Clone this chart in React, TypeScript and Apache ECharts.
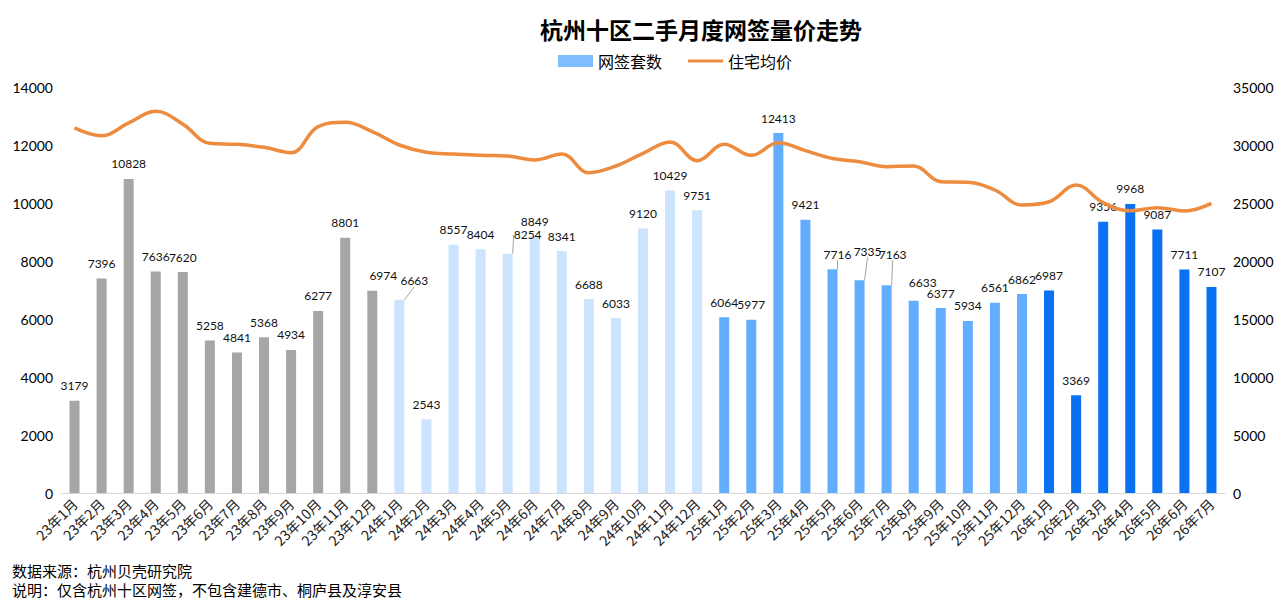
import React, { useEffect, useRef } from "react";
import * as echarts from "echarts";

const categories: string[] = [
  "23年1月", "23年2月", "23年3月", "23年4月", "23年5月", "23年6月", "23年7月", "23年8月", "23年9月", "23年10月", "23年11月", "23年12月",
  "24年1月", "24年2月", "24年3月", "24年4月", "24年5月", "24年6月", "24年7月", "24年8月", "24年9月", "24年10月", "24年11月", "24年12月",
  "25年1月", "25年2月", "25年3月", "25年4月", "25年5月", "25年6月", "25年7月", "25年8月", "25年9月", "25年10月", "25年11月", "25年12月",
  "26年1月", "26年2月", "26年3月", "26年4月", "26年5月", "26年6月", "26年7月",
];

const volume: number[] = [
  3179, 7396, 10828, 7636, 7620, 5258, 4841, 5368, 4934, 6277, 8801, 6974,
  6663, 2543, 8557, 8404, 8254, 8849, 8341, 6688, 6033, 9120, 10429, 9751,
  6064, 5977, 12413, 9421, 7716, 7335, 7163, 6633, 6377, 5934, 6561, 6862,
  6987, 3369, 9356, 9968, 9087, 7711, 7107,
];

const price: number[] = [
  31470, 30800, 31900, 32900, 31800, 30150, 30060, 29800, 29340, 31580, 31960, 31150,
  30000, 29370, 29220, 29110, 29050, 28710, 29220, 27610, 28190, 29280, 30260, 28650,
  30060, 29110, 30200, 29510, 28840, 28560, 28130, 28190, 26840, 26780, 26120, 24830,
  25110, 26550, 25030, 24340, 24600, 24310, 24970,
];

const yearColors: string[] = ["#a6a6a6", "#cce4fd", "#63adfe", "#0a72f2"];

// label shifts [dx, dy] and whether a guide line is drawn
const labelShift: Record<number, [number, number, boolean]> = {
  11: [11, 0, false],
  12: [15, -4, true],
  16: [20, -4, true],
  28: [5, 0, true],
  29: [8, -14, true],
  30: [6, -16, true],
  31: [9, -3, false],
};

const NUM_FONT = 'Lato, "Noto Sans CJK SC", sans-serif';
const CJK_FONT = '"Noto Sans CJK SC", sans-serif';

export default function App() {
  const ref = useRef<HTMLDivElement>(null);

  useEffect(() => {
    document.body.style.margin = "0";
    if (!ref.current) return;
    const chart = echarts.init(ref.current, undefined, { renderer: "svg" });

    const barData = volume.map((v, i) => {
      const yr = Math.floor(i / 12);
      const shift = labelShift[i];
      return {
        value: v,
        itemStyle: { color: yearColors[yr] },
        labelLine: { show: !!(shift && shift[2]) },
      };
    });

    chart.setOption({
      animation: false,
      backgroundColor: "#ffffff",
      title: {
        text: "杭州十区二手月度网签量价走势",
        left: 535,
        top: 12,
        textStyle: { fontFamily: CJK_FONT, fontSize: 23, fontWeight: "bold", color: "#000000" },
      },
      legend: {
        left: 553,
        top: 48,
        itemWidth: 35,
        itemHeight: 12,
        itemGap: 26,
        textStyle: { fontFamily: CJK_FONT, fontSize: 16, color: "#000000" },
        data: [
          { name: "网签套数", icon: "rect", itemStyle: { color: "#80bfff" } },
          { name: "住宅均价", icon: "path://M0,0h35v3h-35z", itemStyle: { color: "#ed8b3f" } },
        ],
      },
      grid: { left: 61, right: 55, top: 87, bottom: 112 },
      xAxis: {
        type: "category",
        data: categories,
        axisLine: { lineStyle: { color: "#d9d9d9", width: 1 } },
        axisTick: { show: false },
        axisLabel: {
          interval: 0,
          rotate: 45,
          margin: 8,
          fontFamily: CJK_FONT,
          fontSize: 14,
          color: "#222222",
        },
      },
      yAxis: [
        {
          type: "value",
          min: 0,
          max: 14000,
          interval: 2000,
          splitLine: { show: false },
          axisLine: { show: false },
          axisTick: { show: false },
          axisLabel: {
            margin: 8,
            fontFamily: NUM_FONT,
            fontSize: 14,
            color: "#000000",
            formatter: (v: number) => String(v),
          },
        },
        {
          type: "value",
          min: 0,
          max: 35000,
          interval: 5000,
          splitLine: { show: false },
          axisLine: { show: false },
          axisTick: { show: false },
          axisLabel: {
            margin: 8,
            fontFamily: NUM_FONT,
            fontSize: 14,
            color: "#000000",
            formatter: (v: number) => String(v),
          },
        },
      ],
      series: [
        {
          name: "网签套数",
          type: "bar",
          yAxisIndex: 0,
          barWidth: 10,
          itemStyle: { color: "#80bfff" },
          data: barData,
          label: {
            show: true,
            position: "top",
            distance: 9,
            fontFamily: NUM_FONT,
            fontSize: 12,
            color: "#111111",
          },
          labelLine: { show: false, lineStyle: { color: "#a6a6a6", width: 1 } },
          labelLayout: (params: any) => {
            const s = labelShift[params.dataIndex];
            if (!s) return {};
            return { dx: s[0], dy: s[1] };
          },
          z: 2,
        },
        {
          name: "住宅均价",
          type: "line",
          yAxisIndex: 1,
          data: price,
          smooth: 0.4,
          symbol: "none",
          lineStyle: { color: "#ed8b3f", width: 3.5 },
          itemStyle: { color: "#ed8b3f" },
          z: 3,
        },
      ],
      graphic: [
        {
          type: "text",
          left: 12,
          top: 563,
          style: { text: "数据来源：杭州贝壳研究院", fontFamily: CJK_FONT, fontSize: 15, fill: "#000000" },
        },
        {
          type: "text",
          left: 12,
          top: 582,
          style: {
            text: "说明：仅含杭州十区网签，不包含建德市、桐庐县及淳安县",
            fontFamily: CJK_FONT,
            fontSize: 15,
            fill: "#000000",
          },
        },
      ],
    });

    return () => {
      chart.dispose();
    };
  }, []);

  return <div ref={ref} style={{ width: 1280, height: 605 }} />;
}
